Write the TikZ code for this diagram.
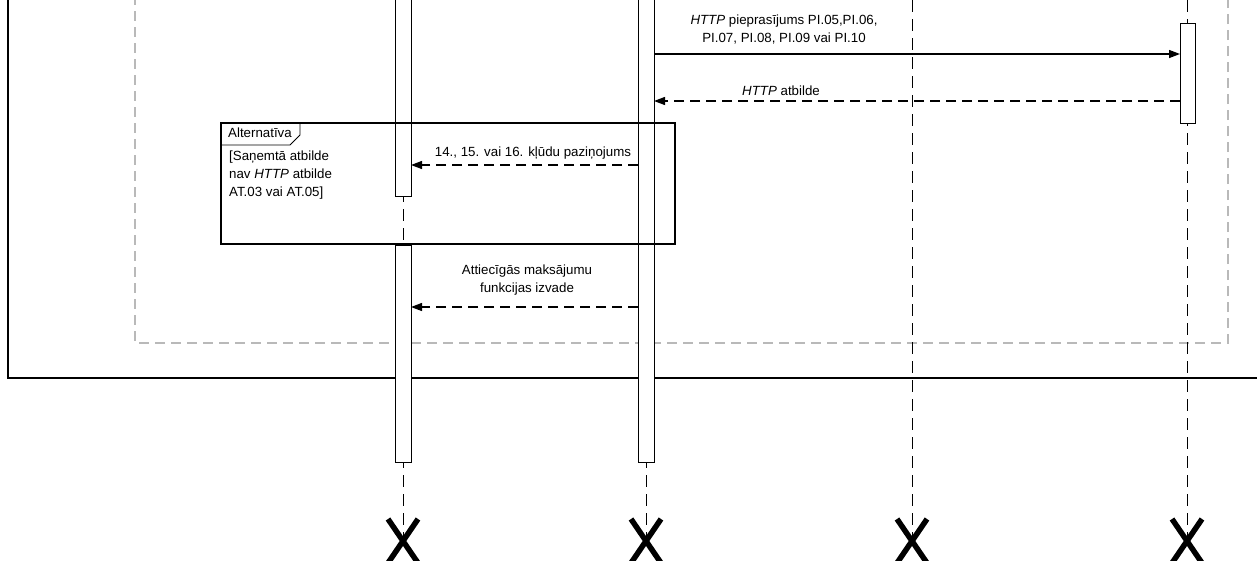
\documentclass[tikz,border=0pt]{standalone}
\usepackage{fontspec}
\setmainfont{Liberation Sans}
\usetikzlibrary{arrows.meta}

\tikzset{
  lifeline/.style={line width=0.8pt, dash pattern=on 12pt off 7pt},
  actbox/.style={draw, fill=white, line width=0.8pt},
  msg/.style={line width=1.3pt, -{Triangle[length=11pt,width=8pt]}},
  reply/.style={msg, dash pattern=on 10pt off 6pt},
  lbl/.style={font=\fontsize{13.3}{18}\selectfont, align=center, inner sep=0pt},
  killmark/.style={line width=5.5pt},
}

\begin{document}
\begin{tikzpicture}[x=1pt, y=-1pt]
        \useasboundingbox (0,0) rectangle (1257,560);

        % system boundary
        \draw[line width=1.8pt] (8,-5) -- (8,378) -- (1262,378);
        \draw[gray!55, line width=1.3pt, dash pattern=on 10pt off 6pt] (135,-5) -- (135,343) -- (1228,343) -- (1228,-5);

        % lifelines
        \draw[lifeline] (403,0) -- (403,541);
        \draw[lifeline] (646,0) -- (646,541);
        \draw[lifeline] (912,0) -- (912,541);
        \draw[lifeline] (1187,0) -- (1187,541);

        % activations
        \draw[actbox] (395,-5) rectangle (411,196);
        \draw[actbox] (395,245) rectangle (411,462);
        \draw[actbox] (638,-5) rectangle (654,462);
        \draw[actbox] (1180,23) rectangle (1195,123);

        % alternative fragment
        \draw[line width=1.3pt] (221,123) rectangle (675,244);
        \draw[line width=0.8pt] (221,145) -- (290,145) -- (300,135) -- (300,123);
        \node[lbl, anchor=west] (alttag) at (228,133) {Alternatīva};
        \node[lbl, anchor=north west, align=left] (guard) at (229,151)
            {[Saņemtā atbilde\\nav \textit{HTTP} atbilde\\AT.03 vai AT.05]};

        % messages
        \coordinate (reqA) at (654,54);
        \coordinate (reqB) at (1180,54);
        \coordinate (repA) at (1180,101);
        \coordinate (repB) at (654,101);
        \coordinate (errA) at (638,165);
        \coordinate (errB) at (411,165);
        \coordinate (outA) at (638,307);
        \coordinate (outB) at (411,307);

        \draw[msg] (reqA) -- (reqB);
        \draw[reply] (repA) -- (repB);
        \draw[reply] (errA) -- (errB);
        \draw[reply] (outA) -- (outB);

        \node[lbl] (reqlbl) at (784,30) {\textit{HTTP} pieprasījums PI.05,PI.06,\\PI.07, PI.08, PI.09 vai PI.10};
        \node[lbl] (replbl) at (781,91) {\textit{HTTP} atbilde};
        \node[lbl] (errlbl) at (533,153) {14., 15. vai 16. kļūdu paziņojums};
        \node[lbl] (outlbl) at (527,280) {Attiecīgās maksājumu\\funkcijas izvade};

        % destruction marks
        \foreach \xx in {403,646,912,1187}
          \draw[killmark] (\xx-15,519) -- (\xx+15,563) (\xx+15,519) -- (\xx-15,563);

    \end{tikzpicture}
\end{document}
